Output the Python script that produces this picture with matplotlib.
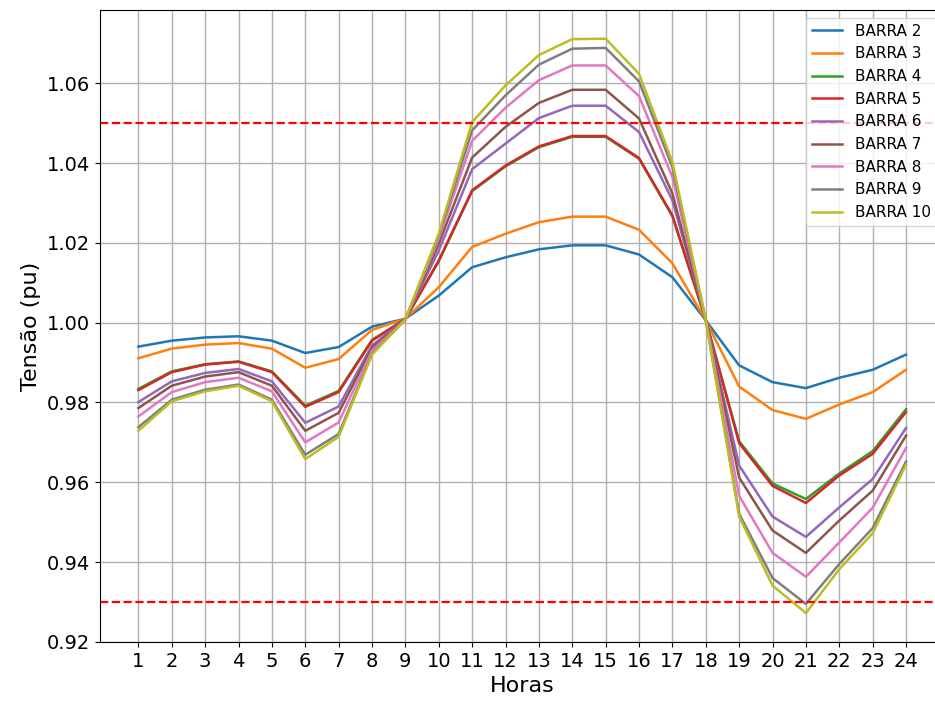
import matplotlib
matplotlib.use("Agg")
import matplotlib.pyplot as plt

horas = list(range(1, 25))

barra2 = [0.9940, 0.9955, 0.9963, 0.9966, 0.9955, 0.9924, 0.9939, 0.9990, 1.0010, 1.0068, 1.0139, 1.0164,
          1.0184, 1.0194, 1.0194, 1.0171, 1.0114, 1.0006, 0.9893, 0.9851, 0.9836, 0.9862, 0.9882, 0.9920]
barra3 = [0.9911, 0.9935, 0.9945, 0.9949, 0.9935, 0.9887, 0.9909, 0.9982, 1.0010, 1.0089, 1.0190, 1.0223,
          1.0252, 1.0266, 1.0266, 1.0233, 1.0149, 1.0006, 0.9840, 0.9781, 0.9759, 0.9795, 0.9826, 0.9882]
barra4 = [0.9834, 0.9878, 0.9896, 0.9903, 0.9878, 0.9792, 0.9829, 0.9957, 1.0009, 1.0154, 1.0330, 1.0392,
          1.0440, 1.0466, 1.0466, 1.0411, 1.0267, 1.0007, 0.9703, 0.9597, 0.9558, 0.9622, 0.9678, 0.9783]
barra5 = [0.9831, 0.9876, 0.9895, 0.9902, 0.9876, 0.9789, 0.9826, 0.9955, 1.0009, 1.0156, 1.0332, 1.0394,
          1.0442, 1.0468, 1.0468, 1.0413, 1.0269, 1.0007, 0.9698, 0.9591, 0.9548, 0.9617, 0.9671, 0.9776]
barra6 = [0.9801, 0.9853, 0.9874, 0.9884, 0.9853, 0.9749, 0.9790, 0.9943, 1.0009, 1.0181, 1.0385, 1.0449,
          1.0513, 1.0544, 1.0544, 1.0478, 1.0307, 1.0007, 0.9642, 0.9514, 0.9463, 0.9537, 0.9608, 0.9736]
barra7 = [0.9786, 0.9842, 0.9865, 0.9876, 0.9842, 0.9729, 0.9774, 0.9937, 1.0008, 1.0198, 1.0414, 1.0491,
          1.0551, 1.0584, 1.0584, 1.0512, 1.0324, 1.0007, 0.9612, 0.9479, 0.9423, 0.9504, 0.9579, 0.9717]
barra8 = [0.9765, 0.9826, 0.9851, 0.9862, 0.9828, 0.9700, 0.9750, 0.9930, 1.0008, 1.0211, 1.0456, 1.0539,
          1.0608, 1.0645, 1.0645, 1.0568, 1.0365, 1.0007, 0.9566, 0.9423, 0.9363, 0.9449, 0.9536, 0.9686]
barra9 = [0.9738, 0.9807, 0.9832, 0.9845, 0.9807, 0.9669, 0.9721, 0.9922, 1.0008, 1.0219, 1.0482, 1.0570,
          1.0647, 1.0687, 1.0689, 1.0605, 1.0390, 1.0007, 0.9521, 0.9360, 0.9295, 0.9395, 0.9485, 0.9652]
barra10 = [0.9729, 0.9803, 0.9828, 0.9842, 0.9803, 0.9658, 0.9714, 0.9920, 1.0008, 1.0223, 1.0503, 1.0595,
           1.0671, 1.0711, 1.0712, 1.0624, 1.0403, 1.0007, 0.9514, 0.9341, 0.9272, 0.9382, 0.9472, 0.9644]

series = [barra2, barra3, barra4, barra5, barra6, barra7, barra8, barra9, barra10]
nomes = ['BARRA %d' % n for n in range(2, 11)]
v_max = 1.05
v_min = 0.93

fig = plt.figure(figsize=(9.35, 7.02), dpi=100)
# axes placed by hand: the reference is cropped on the right edge
ax = fig.add_axes([100 / 935, (702 - 641.8) / 702, (944.4 - 100) / 935, (641.8 - 10) / 702])

for nome, v in zip(nomes, series):
    ax.plot(horas, v, label=nome, linewidth=1.8)

ax.axhline(v_max, color='red', linestyle='--', linewidth=1.6)
ax.axhline(v_min, color='red', linestyle='--', linewidth=1.6)

ax.set_xticks(horas)
ax.tick_params(axis='both', labelsize=14)
ax.set_xlabel('Horas', fontsize=16)
ax.set_ylabel('Tensão (pu)', fontsize=16)
ax.grid(True, linewidth=1.0)
ax.legend(loc='upper right', fontsize=11)

fig.savefig('out.png', dpi=100)
